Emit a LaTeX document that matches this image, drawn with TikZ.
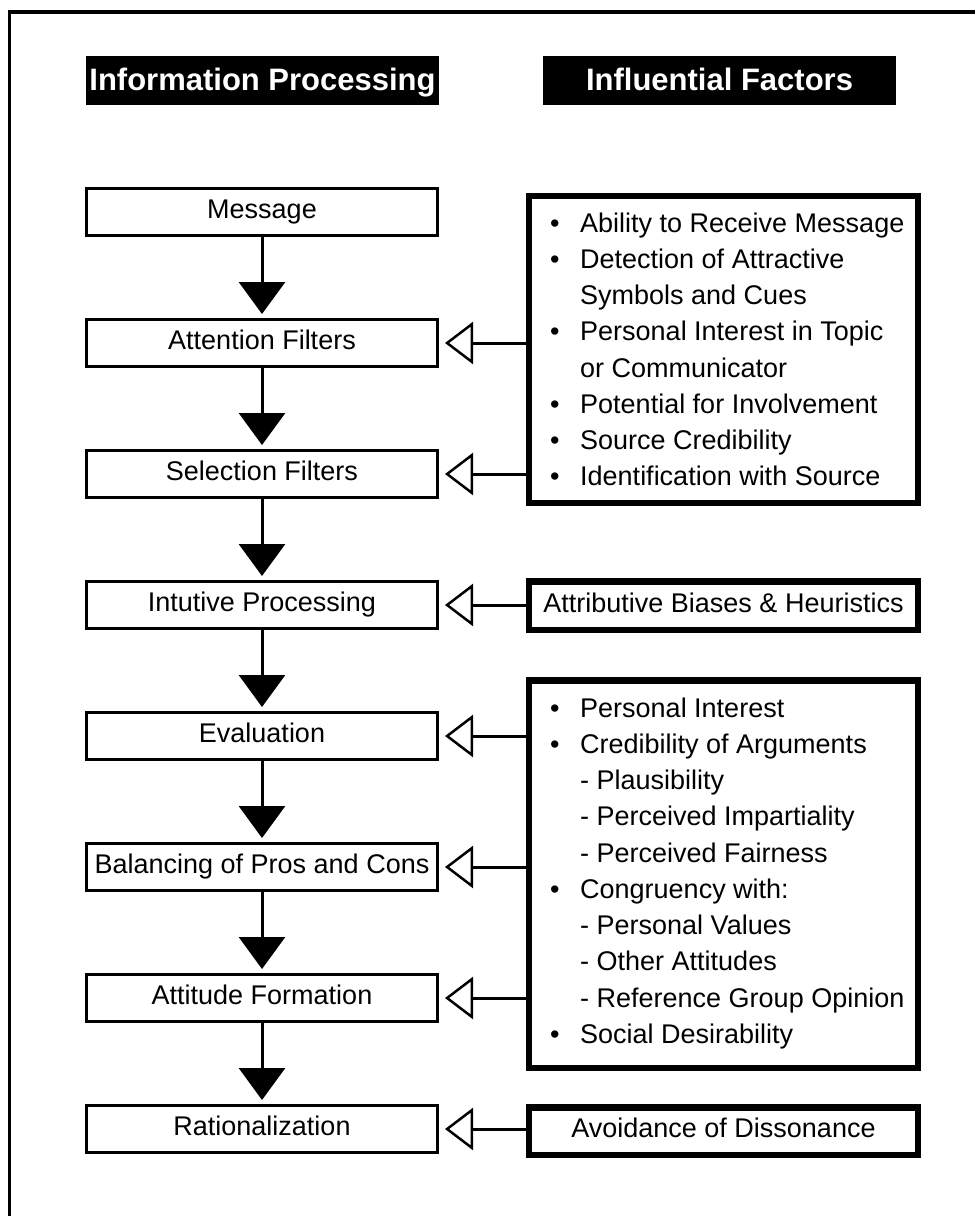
\documentclass[tikz,border=0pt]{standalone}
\usepackage{fontspec}
\setmainfont{Liberation Sans}
\usetikzlibrary{arrows.meta}
\newcommand{\bul}{\makebox[30pt][l]{\textbullet}}
\newcommand{\ind}{\hspace*{30pt}}
\begin{document}
\begin{tikzpicture}[x=1pt,y=-1pt,
  lbox/.style={draw, line width=3pt, minimum width=351pt, minimum height=47pt, inner sep=0pt,
    font=\fontsize{27}{32}\selectfont, text height=19.5pt, text depth=6.5pt},
  rbox/.style={draw, line width=6.5pt, inner sep=0pt, minimum width=389pt,
    font=\fontsize{27}{32}\selectfont, text height=19.5pt, text depth=6.5pt},
  hdr/.style={fill=black, text=white, font=\fontsize{31}{36}\selectfont\bfseries,
    minimum width=353pt, minimum height=49pt, inner sep=0pt, text height=22pt, text depth=2pt},
  list/.style={anchor=base west, inner sep=0pt, font=\fontsize{27}{36.25}\selectfont},
  down/.style={line width=3pt, -{Triangle[length=32pt,width=46pt]}, shorten >=4pt},
  feed/.style={line width=3pt, -{Triangle[open,length=28pt,width=42pt,line width=2.5pt]}},
]
\useasboundingbox (0,0) rectangle (975,1216);
% outer frame (open at right and bottom)
\draw[line width=3.3pt] (9.5,1216) -- (9.5,12) -- (975,12);

% headers
\node[hdr] (h1) at (262.5,80.5) {Information Processing};
\node[hdr] (h2) at (719.5,80.5) {Influential Factors};

% left column
\node[lbox] (msg) at (262,212) {Message};
\node[lbox] (att) at (262,343) {Attention Filters};
\node[lbox] (sel) at (262,474) {Selection Filters};
\node[lbox] (int) at (262,605) {Intutive Processing};
\node[lbox] (eva) at (262,736) {Evaluation};
\node[lbox] (bal) at (262,867) {Balancing of Pros and Cons};
\node[lbox] (atf) at (262,998) {Attitude Formation};
\node[lbox] (rat) at (262,1129) {Rationalization};

\draw[down] (msg.south) -- (att.north);
\draw[down] (att.south) -- (sel.north);
\draw[down] (sel.south) -- (int.north);
\draw[down] (int.south) -- (eva.north);
\draw[down] (eva.south) -- (bal.north);
\draw[down] (bal.south) -- (atf.north);
\draw[down] (atf.south) -- (rat.north);

% right column
\node[rbox, minimum height=307pt] (f1) at (723.5,349.5) {};
\node[list] (t1) at (550,232) {\begin{tabular}[t]{@{}l@{}}
\bul Ability to Receive Message\\
\bul Detection of Attractive\\
\ind Symbols and Cues\\
\bul Personal Interest in Topic\\
\ind or Communicator\\
\bul Potential for Involvement\\
\bul Source Credibility\\
\bul Identification with Source
\end{tabular}};

\node[rbox, minimum height=48.5pt] (f2) at (723.5,605.5) {Attributive Biases \& Heuristics};

\node[rbox, minimum height=387.5pt] (f3) at (723.5,874) {};
\node[list] (t3) at (550,717) {\begin{tabular}[t]{@{}l@{}}
\bul Personal Interest\\
\bul Credibility of Arguments\\
\ind - Plausibility\\
\ind - Perceived Impartiality\\
\ind - Perceived Fairness\\
\bul Congruency with:\\
\ind - Personal Values\\
\ind - Other Attitudes\\
\ind - Reference Group Opinion\\
\bul Social Desirability
\end{tabular}};

\node[rbox, minimum height=47.5pt] (f4) at (723.5,1131) {Avoidance of Dissonance};

% feedback connectors
\draw[feed] (f1.west |- att.east) -- ([xshift=6pt]att.east);
\draw[feed] (f1.west |- sel.east) -- ([xshift=6pt]sel.east);
\draw[feed] (f2.west |- int.east) -- ([xshift=6pt]int.east);
\draw[feed] (f3.west |- eva.east) -- ([xshift=6pt]eva.east);
\draw[feed] (f3.west |- bal.east) -- ([xshift=6pt]bal.east);
\draw[feed] (f3.west |- atf.east) -- ([xshift=6pt]atf.east);
\draw[feed] (f4.west |- rat.east) -- ([xshift=6pt]rat.east);
\end{tikzpicture}
\end{document}
